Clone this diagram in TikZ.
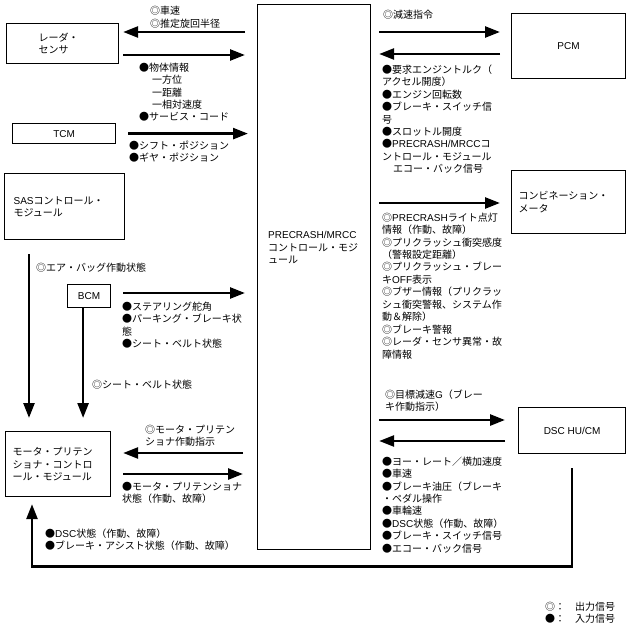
\documentclass[tikz,border=0pt]{standalone}
\usepackage{fontspec}
\setmainfont{Noto Sans CJK JP}
\newfontfamily\lat{Liberation Sans}
\usetikzlibrary{arrows.meta}
\newcommand\fz{\fontsize{10}{12.45}\selectfont}
\begin{document}
\begin{tikzpicture}[x=1pt,y=-1pt,
  box/.style={draw, line width=1.2pt, inner sep=0pt, align=left, font=\fz},
  sig/.style={line width=2.6pt, -{Triangle[length=15pt,width=11pt]}},
  lbl/.style={anchor=north west, inner sep=0pt, align=left, font=\fz},
]
\fill[white] (0,0) rectangle (634,634);
\useasboundingbox (0,0) rectangle (634,634);

% boxes
\node[box, minimum width=113pt, minimum height=545pt, anchor=north west] (ctrl) at (257,4) {};
\node[lbl] (ctrltext) at (268,231.5) {{\lat PRECRASH/MRCC}\\コントロール・モジ\\ュール};
\node[box, inner xsep=32pt, text width=48pt, minimum height=40pt, anchor=north west] (radar) at (6,23) {レーダ・\\センサ};
\node[box, minimum width=103pt, minimum height=20pt, anchor=north west] (tcm) at (12,123) {\lat TCM};
\node[box, inner xsep=9pt, text width=102pt, minimum height=66pt, anchor=north west] (sas) at (4,173) {{\lat SAS}コントロール・\\モジュール};
\node[box, minimum width=43pt, minimum height=23pt, anchor=north west] (bcm) at (67,284) {\lat BCM};
\node[box, inner xsep=7pt, text width=91pt, minimum height=65pt, anchor=north west] (motor) at (5,431) {モータ・プリテン\\ショナ・コントロ\\ール・モジュール};
\node[box, minimum width=114pt, minimum height=65pt, anchor=north west] (pcm) at (511,13) {\lat PCM};
\node[box, inner xsep=7pt, text width=100pt, minimum height=63pt, anchor=north west] (comb) at (511,170) {コンビネーション・\\メータ};
\node[box, minimum width=107pt, minimum height=46pt, anchor=north west] (dsc) at (518,407) {\lat DSC HU/CM};

% left connectors
\draw[sig] ([xshift=-12pt]ctrl.west |- 0,32) -- ([xshift=4pt]radar.east |- 0,32);
\draw[sig] ([xshift=4pt]radar.east |- 0,55) -- ([xshift=-12pt]ctrl.west |- 0,55);
\draw[sig] ([xshift=12pt]tcm.east) -- ([xshift=-9pt]ctrl.west |- tcm.east);
\draw[sig] ([xshift=12pt]bcm.east |- 0,293) -- ([xshift=-12pt]ctrl.west |- 0,293);
\draw[sig] ([xshift=25pt,yshift=-14pt]sas.south west) -- ([xshift=24pt,yshift=13pt]motor.north west);
\draw[sig] ([xshift=-6pt]bcm.south) -- ([xshift=-6pt]bcm.south |- 0,418);
\draw[sig] ([xshift=-14pt]ctrl.west |- 0,453) -- ([xshift=12pt]motor.east |- 0,453);
\draw[sig] ([xshift=12pt]motor.east |- 0,474) -- ([xshift=-14pt]ctrl.west |- 0,474);
\draw[sig] ([yshift=-14pt]dsc.south) -- ++(0,98) -| ([xshift=27pt,yshift=-7pt]motor.south west);

% right connectors
\draw[sig] ([xshift=8pt]ctrl.east |- 0,32) -- ([xshift=-11pt]pcm.west |- 0,32);
\draw[sig] ([xshift=-11pt]pcm.west |- 0,54) -- ([xshift=8pt]ctrl.east |- 0,54);
\draw[sig] ([xshift=8pt]ctrl.east |- 0,203) -- ([xshift=-11pt]comb.west |- 0,203);
\draw[sig] ([xshift=8pt]ctrl.east |- 0,420) -- ([xshift=-13pt]dsc.west |- 0,420);
\draw[sig] ([xshift=-13pt]dsc.west |- 0,441) -- ([xshift=8pt]ctrl.east |- 0,441);

% labels left
\node[lbl] (l1) at (150,6) {◎車速\\◎推定旋回半径};
\node[lbl] (l2) at (139,62.5) {●物体情報\\\hspace*{13pt}一方位\\\hspace*{13pt}一距離\\\hspace*{13pt}一相対速度\\●サービス・コード};
\node[lbl] (l3) at (129,140.5) {●シフト・ポジション\\●ギヤ・ポジション};
\node[lbl] (l4) at (36,262.5) {◎エア・バッグ作動状態};
\node[lbl] (l5) at (122,301.5) {●ステアリング舵角\\●パーキング・ブレーキ状\\態\\●シート・ベルト状態};
\node[lbl] (l6) at (92,379.5) {◎シート・ベルト状態};
\node[lbl] (l7) at (145,424.5) {◎モータ・プリテン\\ショナ作動指示};
\node[lbl] (l8) at (122,481.5) {●モータ・プリテンショナ\\状態（作動、故障）};
\node[lbl] (l9) at (45,528.5) {●{\lat DSC}状態（作動、故障）\\●ブレーキ・アシスト状態（作動、故障）};

% labels right
\node[lbl] (r1) at (383,9.5) {◎減速指令};
\node[lbl] (r2) at (382,64.5) {●要求エンジントルク（\\アクセル開度）\\●エンジン回転数\\●ブレーキ・スイッチ信\\号\\●スロットル開度\\●{\lat PRECRASH/MRCC}コ\\ントロール・モジュール\\\hspace*{11pt}エコー・バック信号};
\node[lbl] (r3) at (382,212.5) {◎{\lat PRECRASH}ライト点灯\\情報（作動、故障）\\◎プリクラッシュ衝突感度\\（警報設定距離）\\◎プリクラッシュ・ブレー\\キ{\lat OFF}表示\\◎ブザー情報（プリクラッ\\シュ衝突警報、システム作\\動＆解除）\\◎ブレーキ警報\\◎レーダ・センサ異常・故\\障情報};
\node[lbl] (r4) at (385,389.5) {◎目標減速{\lat G}（ブレー\\キ作動指示）};
\node[lbl] (r5) at (382,456.5) {●ヨー・レート／横加速度\\●車速\\●ブレーキ油圧（ブレーキ\\・ペダル操作\\●車輪速\\●{\lat DSC}状態（作動、故障）\\●ブレーキ・スイッチ信号\\●エコー・バック信号};

% legend
\node[lbl] (lg) at (545,601.5) {◎：\hspace{10pt}出力信号\\●：\hspace{10pt}入力信号};
\end{tikzpicture}
\end{document}
